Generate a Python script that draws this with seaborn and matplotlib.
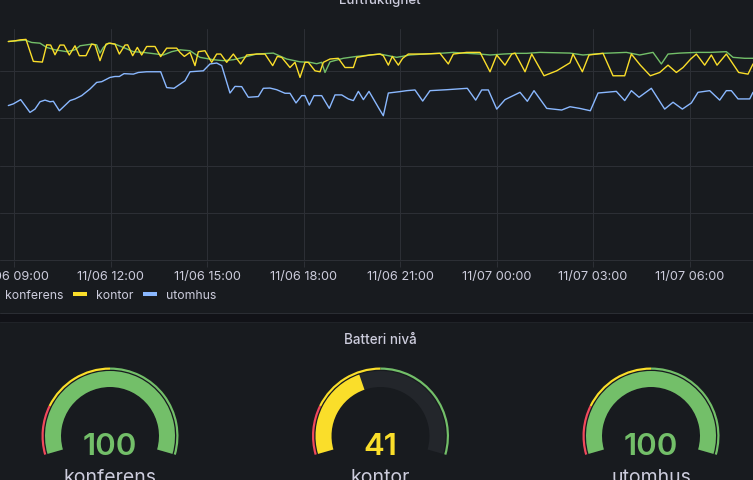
import pandas as pd
import matplotlib
matplotlib.use("Agg")
import matplotlib.pyplot as plt
import matplotlib.dates as mdates
from matplotlib.patches import Wedge, Rectangle
from matplotlib.lines import Line2D
import seaborn as sns

sns.set_theme(style="dark")
plt.rcParams["font.family"] = ["Inter", "DejaVu Sans"]

BG = "#181b1f"
GAP = "#111217"
GRID = "#2c2f35"
TXT = "#ccccdc"
TOM = "#23262b"

# --- data: luftfuktighet (timmar från 11/06 00:00, procent) ---
sensorer = ["konferens", "kontor", "utomhus"]
farger = {"konferens": "#73BF69", "kontor": "#FADE2A", "utomhus": "#8AB8FF"}

konferens_tid = [8.824, 9.342, 9.550, 9.808, 10.016, 10.274, 10.638, 10.896, 11.052, 11.414,
                 11.570, 11.673, 11.777, 11.932, 12.140, 12.399, 12.710, 13.020, 13.436, 13.643,
                 13.902, 14.160, 14.471, 14.782, 15.196, 15.507, 15.818, 16.128, 16.544, 17.061,
                 17.476, 17.890, 18.201, 18.408, 18.564, 18.667, 18.823, 19.237, 19.653, 20.066,
                 20.377, 20.895, 21.309, 21.723, 22.345, 22.656, 22.967, 23.486, 23.797, 24.210,
                 24.626, 24.937, 25.350, 26.283, 26.687, 27.309, 28.034, 28.449, 28.863, 29.122,
                 29.330, 29.693, 30.210, 30.625, 31.142, 31.350, 31.713, 31.971]
konferens_fukt = [92.5, 93.1, 92.1, 91.8, 90.0, 89.0, 88.2, 89.0, 90.7, 91.4,
                  91.1, 87.6, 90.0, 91.8, 91.4, 90.0, 88.2, 87.9, 87.2, 86.8,
                  88.2, 89.0, 88.6, 85.8, 84.8, 84.4, 84.8, 85.8, 87.2, 87.6,
                  85.1, 83.9, 83.7, 83.1, 83.7, 79.4, 83.9, 85.4, 86.2, 86.8,
                  87.2, 85.8, 86.8, 87.2, 87.6, 87.9, 87.6, 87.2, 86.8, 87.2,
                  87.5, 87.5, 87.9, 87.6, 86.8, 87.5, 87.9, 86.8, 87.9, 83.0,
                  87.2, 87.6, 87.9, 87.9, 88.2, 85.8, 85.4, 85.4]

kontor_tid = [8.824, 9.031, 9.187, 9.373, 9.601, 9.881, 10.016, 10.140, 10.274, 10.430,
              10.554, 10.720, 10.896, 11.031, 11.238, 11.414, 11.518, 11.673, 11.860, 11.984,
              12.140, 12.274, 12.450, 12.534, 12.689, 12.834, 12.969, 13.124, 13.383, 13.559,
              13.746, 14.057, 14.160, 14.295, 14.471, 14.626, 14.730, 14.937, 15.145, 15.300,
              15.425, 15.611, 15.818, 16.047, 16.233, 16.544, 16.802, 17.041, 17.186, 17.321,
              17.579, 17.735, 17.890, 18.046, 18.149, 18.357, 18.512, 18.616, 18.823, 19.082,
              19.289, 19.549, 19.653, 20.066, 20.377, 20.480, 20.636, 20.760, 20.947, 21.082,
              21.257, 21.723, 22.242, 22.500, 22.656, 23.070, 23.486, 23.797, 24.005, 24.262,
              24.471, 24.574, 24.885, 25.093, 25.475, 25.870, 26.283, 26.376, 26.667, 26.874,
              27.309, 27.620, 27.983, 28.190, 28.469, 28.780, 29.071, 29.330, 29.588, 29.796,
              30.035, 30.210, 30.469, 30.676, 30.853, 31.142, 31.526, 31.816, 31.971]
kontor_fukt = [92.5, 92.8, 93.2, 93.4, 84.1, 83.8, 91.1, 91.0, 86.9, 91.0,
               91.0, 86.8, 90.7, 86.5, 86.5, 91.4, 91.1, 84.4, 91.4, 91.8,
               91.4, 87.2, 91.0, 91.1, 86.5, 90.0, 86.8, 90.4, 90.4, 86.1,
               89.7, 89.7, 87.9, 86.2, 87.9, 82.3, 88.2, 88.6, 83.7, 87.2,
               87.2, 83.7, 87.2, 83.0, 86.8, 87.2, 87.2, 82.3, 86.2, 85.8,
               81.5, 83.7, 77.3, 83.7, 83.7, 80.1, 79.7, 83.7, 85.1, 85.4,
               81.5, 81.5, 85.8, 86.8, 87.2, 86.5, 82.5, 86.2, 82.5, 85.4,
               87.2, 87.2, 87.5, 83.0, 87.2, 87.9, 87.9, 79.7, 86.8, 82.5,
               87.2, 87.6, 79.7, 87.2, 78.0, 80.1, 83.5, 87.2, 79.7, 86.8,
               87.5, 78.0, 78.0, 87.2, 82.5, 78.0, 79.4, 82.5, 79.4, 81.5,
               85.1, 87.2, 82.5, 86.8, 82.5, 87.2, 79.4, 78.7, 83.0]

utomhus_tid = [8.824, 8.978, 9.208, 9.497, 9.653, 9.808, 9.964, 10.119, 10.223, 10.410,
               10.741, 10.896, 11.104, 11.362, 11.570, 11.726, 11.984, 12.140, 12.274, 12.419,
               12.710, 12.865, 13.124, 13.559, 13.746, 13.974, 14.316, 14.471, 14.885, 15.093,
               15.300, 15.456, 15.714, 15.870, 16.078, 16.283, 16.594, 16.750, 16.958, 17.166,
               17.424, 17.579, 17.766, 17.942, 18.046, 18.180, 18.325, 18.564, 18.801, 18.978,
               19.186, 19.392, 19.549, 19.704, 19.860, 20.035, 20.356, 20.480, 20.636, 20.999,
               21.206, 21.465, 21.704, 21.931, 22.450, 23.091, 23.351, 23.538, 23.744, 24.005,
               24.262, 24.729, 24.956, 25.164, 25.559, 26.025, 26.283, 26.584, 26.915, 27.154,
               27.723, 27.983, 28.190, 28.428, 28.811, 29.226, 29.485, 29.775, 30.055, 30.262,
               30.625, 30.936, 31.142, 31.298, 31.506, 31.869, 31.971]
utomhus_fukt = [65.4, 66.1, 67.9, 62.5, 63.9, 67.0, 67.7, 67.0, 67.2, 63.2,
                67.5, 68.2, 69.6, 72.4, 75.2, 75.5, 77.3, 77.7, 77.7, 78.9,
                78.7, 79.4, 79.7, 79.7, 73.0, 72.7, 75.9, 79.7, 80.1, 83.0,
                83.4, 82.3, 70.7, 73.5, 73.4, 68.9, 69.2, 72.7, 72.8, 72.1,
                70.6, 70.6, 66.5, 69.6, 69.6, 65.6, 69.6, 69.6, 64.2, 69.9,
                69.9, 68.2, 67.5, 71.4, 67.9, 71.4, 63.9, 61.1, 70.7, 71.3,
                71.7, 72.0, 67.3, 71.7, 72.1, 72.7, 67.7, 72.0, 72.0, 63.9,
                67.9, 71.0, 67.2, 71.7, 64.2, 63.5, 64.9, 64.2, 63.2, 70.7,
                71.4, 67.5, 71.7, 68.9, 72.7, 63.9, 66.8, 63.9, 66.5, 71.0,
                71.7, 67.7, 71.7, 71.7, 68.2, 68.2, 71.0]

tick_timmar = [9, 12, 15, 18, 21, 24, 27, 30]
y_ticks = [0, 20, 40, 60, 80]

# --- data: batterinivå ---
batteri_namn = ["konferens", "kontor", "utomhus"]
batteri_varde = [100, 41, 100]
troskel_steg = [(0, 20, "#F2495C"), (20, 50, "#FADE2A"), (50, 100, "#73BF69")]

start = pd.Timestamp("2023-11-06 00:00")


def till_tid(timmar):
    return start + pd.to_timedelta(timmar, unit="h")


df = pd.concat([
    pd.DataFrame({"tid": till_tid(konferens_tid), "fukt": konferens_fukt, "sensor": "konferens"}),
    pd.DataFrame({"tid": till_tid(kontor_tid), "fukt": kontor_fukt, "sensor": "kontor"}),
    pd.DataFrame({"tid": till_tid(utomhus_tid), "fukt": utomhus_fukt, "sensor": "utomhus"}),
], ignore_index=True)

W, H = 753, 481


def fx(x):
    return x / W


def fy(y):
    return 1 - y / H


fig = plt.figure(figsize=(W / 100, H / 100), dpi=100, facecolor=BG)

# 1. Luftfuktighet
ax = fig.add_axes([0, fy(262), 1, (262 - 30) / H])
ax.set_facecolor(BG)
sns.lineplot(data=df, x="tid", y="fukt", hue="sensor", hue_order=sensorer,
             palette=farger, estimator=None, linewidth=1.0, legend=False, ax=ax)
ax.set_xlim(till_tid(8.565), till_tid(31.971))
ax.set_ylim(-0.4, 97.8)
ax.set_xticks(list(till_tid(tick_timmar)))
ax.xaxis.set_major_formatter(mdates.DateFormatter("%m/%d %H:%M"))
ax.set_yticks(y_ticks)
ax.grid(True, color=GRID, linewidth=0.75)
for s in ax.spines.values():
    s.set_visible(False)
ax.tick_params(axis="x", colors=GRID, labelcolor=TXT, labelsize=9.2, length=4, width=0.75, pad=2.5, bottom=True)
ax.tick_params(axis="y", length=0, labelleft=False)
ax.set_xlabel("")
ax.set_ylabel("")

fig.text(fx(380), fy(4), "Luftfuktighet", ha="center", va="baseline",
         fontsize=9.5, fontweight="medium", color=TXT)

handles = [Line2D([], [], color=farger[s], linewidth=2.9, solid_capstyle="butt") for s in sensorer]
fig.legend(handles, sensorer, loc="center left", bbox_to_anchor=(fx(-18), fy(296)),
           ncol=3, frameon=False, fontsize=8.8, handlelength=1.15, handletextpad=0.72,
           columnspacing=0.8, borderpad=0, borderaxespad=0, labelcolor=TXT)

# panelgräns
fig.add_artist(Rectangle((0, fy(323)), 1, 9 / H, transform=fig.transFigure,
                         facecolor=GAP, edgecolor="none"))
fig.add_artist(Line2D([0, 1], [fy(314), fy(314)], transform=fig.transFigure, color="#2a2d33", linewidth=0.75))
fig.add_artist(Line2D([0, 1], [fy(323), fy(323)], transform=fig.transFigure, color="#202328", linewidth=0.75))

# 2. Batteri nivå
fig.text(fx(380), fy(340.5), "Batteri nivå", ha="center", va="center",
         fontsize=9.7, fontweight="medium", color=TXT)

gax = fig.add_axes([0, 0, 1, fy(323)])
gax.set_xlim(0, W)
gax.set_ylim(0, H - 323)
gax.axis("off")

A0, A1 = 196, -16


def vinkel(v):
    return A0 - v / 100 * (A0 - A1)


def farg_for(v):
    farg = troskel_steg[0][2]
    for lo, hi, c in troskel_steg:
        if v >= lo:
            farg = c
    return farg


centra_x = [110, 380.5, 651]
cy = H - 437
for cx, namn, v in zip(centra_x, batteri_namn, batteri_varde):
    for lo, hi, c in troskel_steg:
        gax.add_patch(Wedge((cx, cy), 68.5, vinkel(hi), vinkel(lo), width=2.2,
                            facecolor=c, edgecolor="none"))
    gax.add_patch(Wedge((cx, cy), 65, A1, A0, width=16, facecolor=TOM, edgecolor="none"))
    c = farg_for(v)
    gax.add_patch(Wedge((cx, cy), 65, vinkel(v), A0, width=16, facecolor=c, edgecolor="none"))
    gax.text(cx, H - 455, f"{v}", ha="center", va="baseline", fontsize=22.5,
             fontweight="semibold", color=c)
    gax.text(cx, H - 483, namn, ha="center", va="baseline", fontsize=14, color=TXT, clip_on=False)

plt.savefig("out.png", dpi=100, facecolor=BG)
plt.close()
